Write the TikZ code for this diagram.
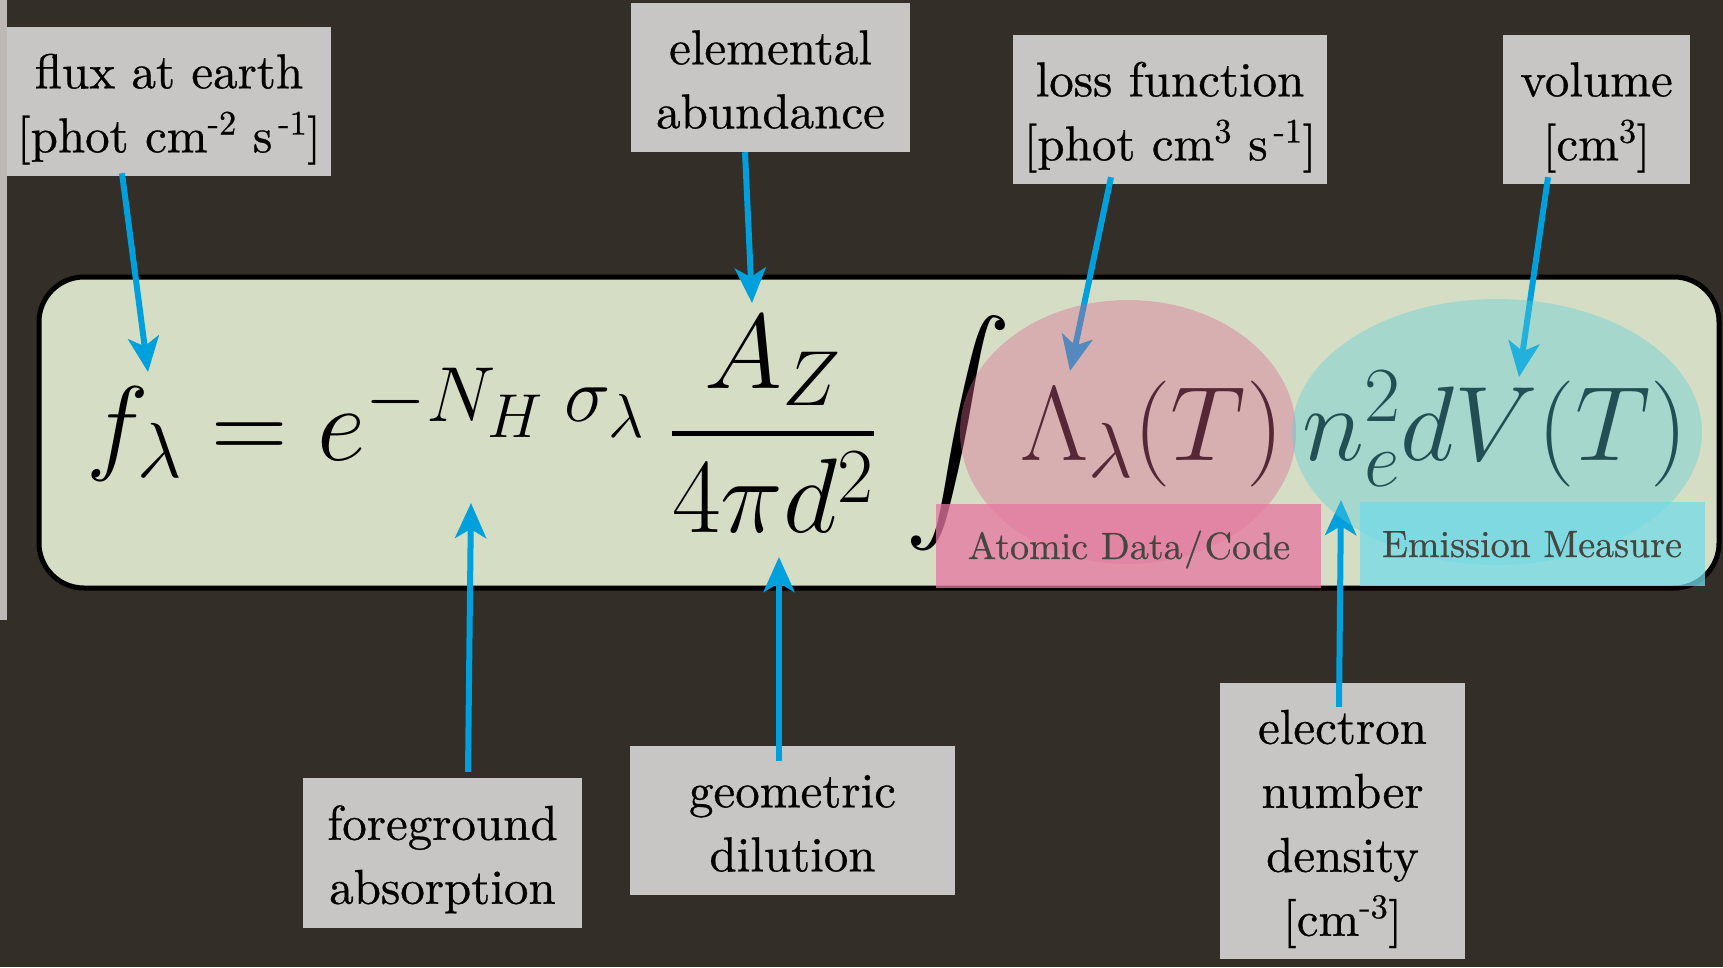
\RequirePackage{fix-cm}
\documentclass[tikz,border=0pt]{standalone}
\usepackage{amsmath}
\usepackage{fontspec}
\usepackage{graphicx}
\DeclareFontFamily{OMX}{cmex}{}
\DeclareFontShape{OMX}{cmex}{m}{n}{<-> cmex10}{}
\DeclareMathSizes{106}{106}{78}{62}
\newfontface\lblfont{lmroman10-regular.otf}[FakeBold=0.6]
\usetikzlibrary{arrows.meta}
\definecolor{bgdark}{HTML}{332E28}
\definecolor{eqgreen}{HTML}{D5DEC5}
\definecolor{lblgray}{HTML}{C8C6C4}
\definecolor{arrblue}{HTML}{00A0DC}
\definecolor{ellpink}{HTML}{DB6790}
\definecolor{ellcyan}{HTML}{5ACDDA}
\definecolor{rectpink}{HTML}{E776A1}
\definecolor{rectcyan}{HTML}{73DBE8}
\definecolor{recttext}{HTML}{464641}
\definecolor{stripgray}{HTML}{BDB8B6}
\tikzset{
  lbox/.style={fill=lblgray, draw=none, inner sep=0pt},
  ltext/.style={font=\lblfont\fontsize{49}{64}\selectfont, align=center, inner sep=0pt, text=black, yshift=-6pt},
  arr/.style={draw=arrblue, line width=6pt, -{Stealth[length=35pt,width=31pt,inset=9pt]}},
  eqpart/.style={font=\fontsize{106}{120}\selectfont, inner sep=0pt, anchor=base west},
  ctext/.style={font=\lblfont\fontsize{38}{46}\selectfont, text=recttext, inner sep=0pt, anchor=base},
  crect/.style={draw=none, inner sep=0pt, fill opacity=0.75},
}
\begin{document}
\begin{tikzpicture}[x=1pt,y=1pt]
\useasboundingbox (0,0) rectangle (1723,-967);
\fill[bgdark] (0,0) rectangle (1723,-967);
\fill[stripgray] (0,0) rectangle (7,-620);

% equation panel
\node[draw=black, line width=5pt, fill=eqgreen, rounded corners=45pt,
      minimum width=1680pt, minimum height=311pt, inner sep=0pt] (eqbox) at (879,-432.5) {};

% equation
\node[eqpart] (lhs) at (86,-460) {$f_\lambda = e^{-N_H\;\sigma_\lambda}$};
\node[eqpart, anchor=base] (frac) at (773,-460) {$\displaystyle\frac{A_Z}{4\pi d^2}$};
\node[eqpart] (intg) at (905,-460) {$\displaystyle\int$};
\node[eqpart] (atom) at (1020,-460) {$\Lambda_\lambda(T)$};
\node[eqpart] (emis) at (1302,-460) {$n_e^2dV(T)$};

% label boxes
\node[lbox, minimum width=324pt, minimum height=149pt] (flux) at (169,-101.5) {};
\node[ltext] (fluxT) at (flux.center) {\strut flux at earth\\\strut[phot cm\textsuperscript{-2} s\kern0.12em\textsuperscript{-1}]};
\node[lbox, minimum width=279pt, minimum height=149pt] (elem) at (770.5,-77.5) {};
\node[ltext] (elemT) at (elem.center) {\strut elemental\\\strut abundance};
\node[lbox, minimum width=314pt, minimum height=149pt] (loss) at (1170,-109.5) {};
\node[ltext] (lossT) at (loss.center) {\strut loss function\\\strut[phot cm\textsuperscript{3} s\kern0.12em\textsuperscript{-1}]};
\node[lbox, minimum width=187pt, minimum height=149pt] (vol) at (1596.5,-109.5) {};
\node[ltext] (volT) at (vol.center) {\strut volume\\\strut[cm\textsuperscript{3}]};
\node[lbox, minimum width=279pt, minimum height=150pt] (fg) at (442.5,-853) {};
\node[ltext] (fgT) at (fg.center) {\strut foreground\\\strut absorption};
\node[lbox, minimum width=325pt, minimum height=149pt] (geo) at (792.5,-820.5) {};
\node[ltext] (geoT) at (geo.center) {\strut geometric\\\strut dilution};
\node[lbox, minimum width=245pt, minimum height=276pt] (ele) at (1342.5,-821) {};
\node[ltext] (eleT) at (ele.center) {\strut electron\\\strut number\\\strut density\\\strut[cm\textsuperscript{-3}]};

% arrow tips
\coordinate (tflux) at (148,-372);
\coordinate (telem) at (752,-303);
\coordinate (tloss) at (1070,-371);
\coordinate (tvol) at (1519,-377);
\coordinate (tfg) at (471,-503);
\coordinate (tgeo) at (779,-557);
\coordinate (tele) at (1341,-500);

\draw[arr] ([xshift=-47pt,yshift=3pt]flux.south) -- (tflux);
\draw[arr] ([xshift=-25.5pt]elem.south) -- (telem);
\draw[arr] ([xshift=-59pt,yshift=7pt]loss.south) -- (tloss);
\draw[arr] ([xshift=-48.5pt,yshift=7pt]vol.south) -- (tvol);
\draw[arr] ([xshift=25.5pt,yshift=6pt]fg.north) -- (tfg);
\draw[arr] ([xshift=-13.5pt,yshift=-15pt]geo.north) -- (tgeo);
\draw[arr] ([xshift=-3.5pt,yshift=-24pt]ele.north) -- (tele);

% translucent ellipses
\fill[ellpink, opacity=0.39] (1128,-432) ellipse [x radius=168, y radius=132];
\fill[ellcyan, opacity=0.39] (1497,-432) ellipse [x radius=205, y radius=133];

% category labels
\node[crect, fill=rectpink, minimum width=385pt, minimum height=84pt] (atomR) at (1128.5,-546) {};
\node[crect, fill=rectcyan, minimum width=345pt, minimum height=84pt] (emisR) at (1532.5,-544) {};
\node[ctext] (atomL) at (1129,-559) {Atomic Data\kern0.04em/\kern0.04em Code};
\node[ctext] (emisL) at (1532,-557) {Emission Measure};
\end{tikzpicture}
\end{document}
